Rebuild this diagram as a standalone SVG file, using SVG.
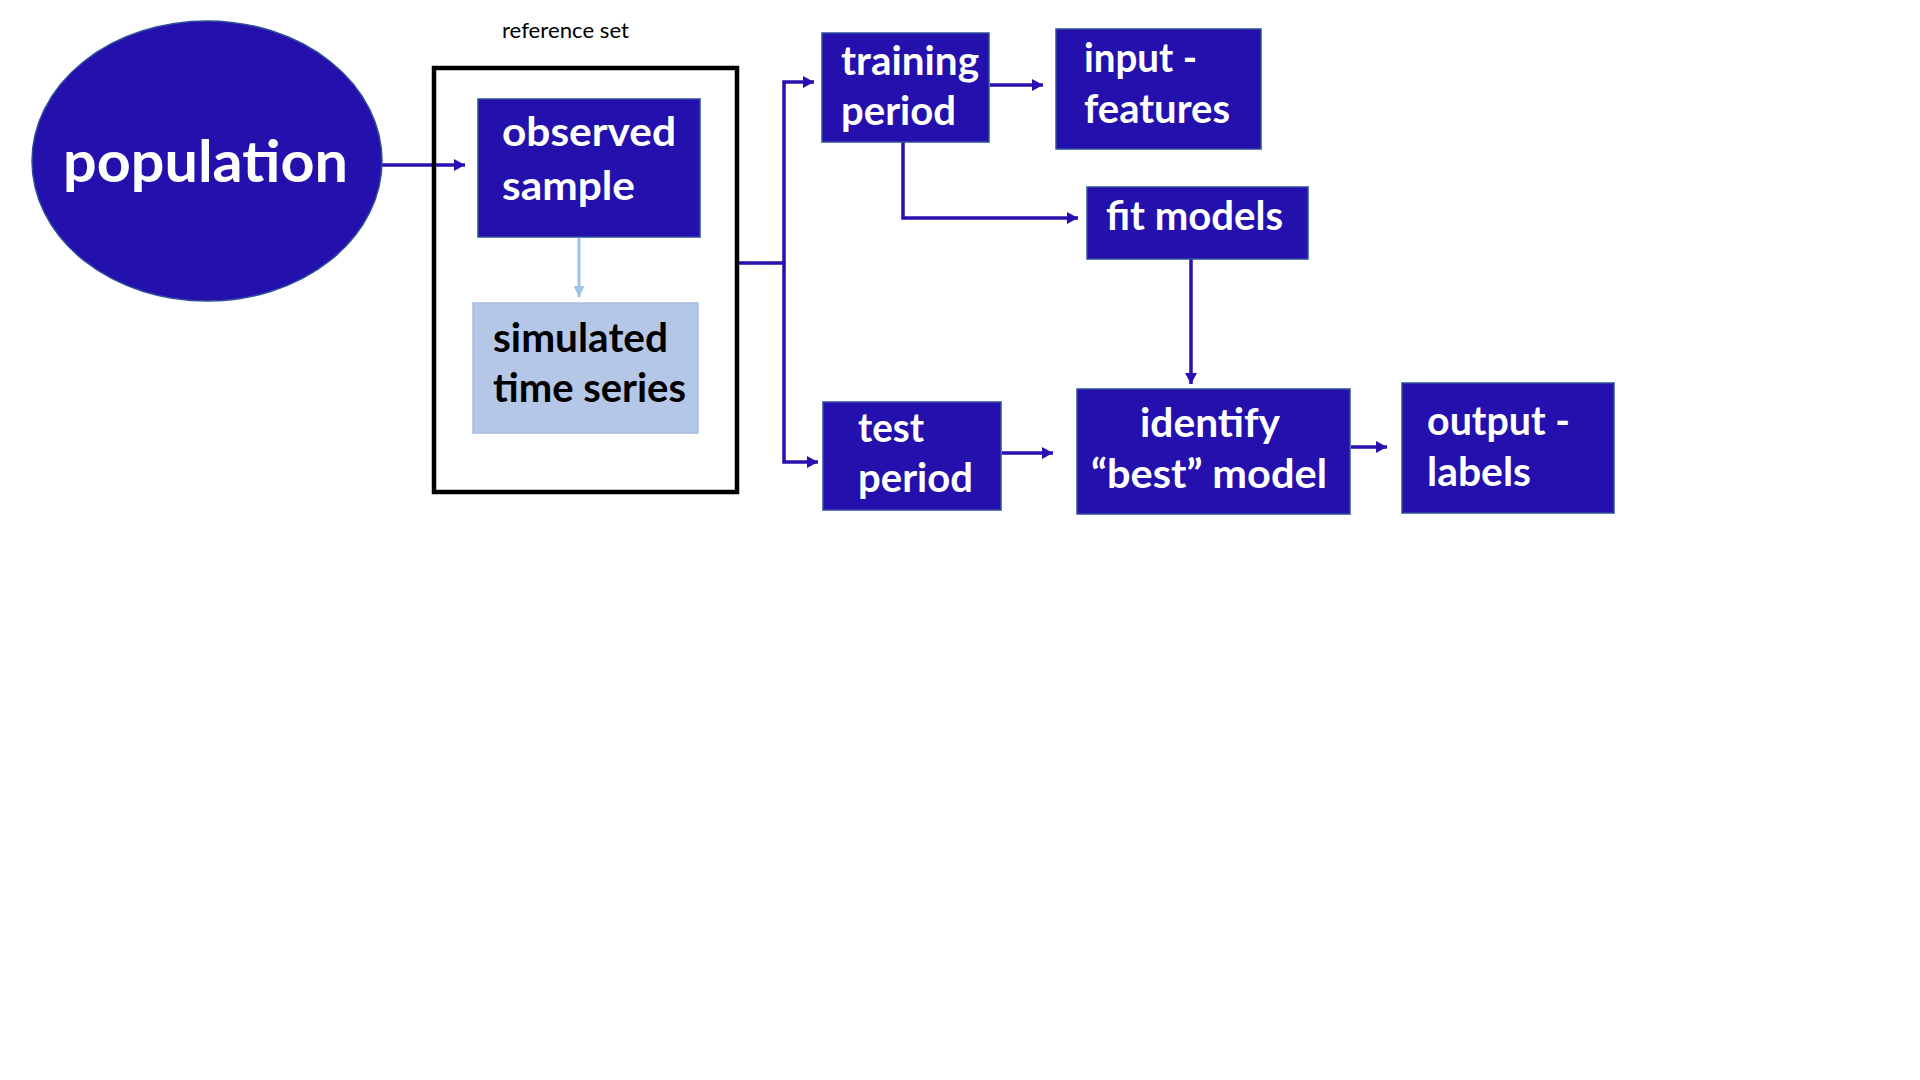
<svg xmlns="http://www.w3.org/2000/svg" width="1920" height="1080" viewBox="0 0 1920 1080">
<style>
.node{fill:#2411AD;stroke:#2F4F9A;stroke-width:1.5}
.lbl{font-family:Lato,"Liberation Sans",sans-serif;font-weight:bold;fill:#FFFFFF}
.dark{fill:#000000}
.con{fill:none;stroke:#2A10B0;stroke-width:3.5}
.con2{fill:none;stroke:#9DC3E6;stroke-width:3}
</style>
<defs>
<marker id="ah" markerWidth="11" markerHeight="12" refX="11" refY="6" orient="auto" markerUnits="userSpaceOnUse"><path d="M0,0 L11,6 L0,12 z" fill="#2A10B0"/></marker>
<marker id="ah2" markerWidth="12" markerHeight="11" refX="11" refY="5.5" orient="auto" markerUnits="userSpaceOnUse"><path d="M0,0 L11,5.5 L0,11 z" fill="#9DC3E6"/></marker>
</defs>
<rect width="1920" height="1080" fill="#FFFFFF"/>
<g id="connectors">
<path class="con" d="M382,165 H465" marker-end="url(#ah)"/>
<path class="con2" d="M579,238 V297" marker-end="url(#ah2)"/>
<path class="con" d="M739,263 H784 V82 H814" marker-end="url(#ah)"/>
<path class="con" d="M784,263 V462 H818" marker-end="url(#ah)"/>
<path class="con" d="M990,85 H1043" marker-end="url(#ah)"/>
<path class="con" d="M903,142 V218 H1078" marker-end="url(#ah)"/>
<path class="con" d="M1191,259 V384" marker-end="url(#ah)"/>
<path class="con" d="M1002,453 H1053" marker-end="url(#ah)"/>
<path class="con" d="M1351,447 H1387" marker-end="url(#ah)"/>
</g>
<g id="population">
<ellipse class="node" cx="207" cy="161" rx="175" ry="140"/>
<text class="lbl" x="63" y="182" font-size="58" textLength="285" lengthAdjust="spacingAndGlyphs">population</text>
</g>
<g id="reference-set">
<text x="502" y="38" font-family="Lato,'Liberation Sans',sans-serif" font-size="21" fill="#000000" textLength="127" lengthAdjust="spacingAndGlyphs">reference set</text>
<rect x="434" y="68" width="303" height="424" fill="none" stroke="#000000" stroke-width="4.5"/>
</g>
<g id="observed-sample">
<rect class="node" x="478" y="99" width="222" height="138"/>
<text class="lbl" font-size="41"><tspan x="502" y="146" textLength="174" lengthAdjust="spacingAndGlyphs">observed</tspan><tspan x="502" y="200" textLength="133" lengthAdjust="spacingAndGlyphs">sample</tspan></text>
</g>
<g id="simulated-time-series">
<rect x="473" y="303" width="225" height="130" fill="#B4C7E7" stroke="#A9BEE0" stroke-width="1.5"/>
<text class="lbl dark" font-size="41"><tspan x="493" y="352" textLength="175" lengthAdjust="spacingAndGlyphs">simulated</tspan><tspan x="493" y="402" textLength="193" lengthAdjust="spacingAndGlyphs">time series</tspan></text>
</g>
<g id="training-period">
<rect class="node" x="822" y="33" width="167" height="109"/>
<text class="lbl" font-size="40"><tspan x="841" y="75" textLength="138" lengthAdjust="spacingAndGlyphs">training</tspan><tspan x="841" y="125" textLength="115" lengthAdjust="spacingAndGlyphs">period</tspan></text>
</g>
<g id="input-features">
<rect class="node" x="1056" y="29" width="205" height="120"/>
<text class="lbl" font-size="40"><tspan x="1084" y="72" textLength="113" lengthAdjust="spacingAndGlyphs">input -</tspan><tspan x="1084" y="123" textLength="146" lengthAdjust="spacingAndGlyphs">features</tspan></text>
</g>
<g id="fit-models">
<rect class="node" x="1087" y="187" width="221" height="72"/>
<text class="lbl" font-size="40" x="1106" y="230" textLength="177" lengthAdjust="spacingAndGlyphs">fit models</text>
</g>
<g id="test-period">
<rect class="node" x="823" y="402" width="178" height="108"/>
<text class="lbl" font-size="40"><tspan x="858" y="442" textLength="66" lengthAdjust="spacingAndGlyphs">test</tspan><tspan x="858" y="492" textLength="115" lengthAdjust="spacingAndGlyphs">period</tspan></text>
</g>
<g id="identify-best-model">
<rect class="node" x="1077" y="389" width="273" height="125"/>
<text class="lbl" font-size="40"><tspan x="1140" y="437" textLength="140" lengthAdjust="spacingAndGlyphs">identify</tspan><tspan x="1091" y="488" textLength="236" lengthAdjust="spacingAndGlyphs">“best” model</tspan></text>
</g>
<g id="output-labels">
<rect class="node" x="1402" y="383" width="212" height="130"/>
<text class="lbl" font-size="40"><tspan x="1427" y="435" textLength="143" lengthAdjust="spacingAndGlyphs">output -</tspan><tspan x="1427" y="486" textLength="104" lengthAdjust="spacingAndGlyphs">labels</tspan></text>
</g>
</svg>
